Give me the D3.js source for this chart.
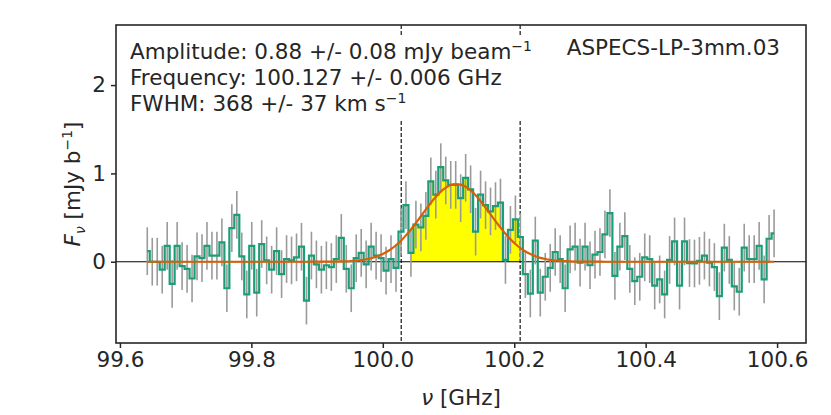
<!DOCTYPE html>
<html>
<head>
<meta charset="utf-8">
<script src="https://cdn.jsdelivr.net/npm/d3@7"></script>
<style>
  body { margin: 0; background: #fff; }
  svg { display: block; font-family: "DejaVu Sans", sans-serif; }
</style>
</head>
<body>
<div id="chart"></div>
<script>
// channel grid (GHz)
const freqStart = 99.6416;
const chanWidth = 0.00757;

// flux per channel, mJy/beam
const flux = [
  0.12, 0.00, 0.00, -0.09, 0.18, -0.25, 0.18, -0.05, -0.08, -0.19,
  0.06, 0.04, 0.18, 0.07, 0.07, 0.22, -0.30, 0.38, 0.53, 0.06,
  -0.37, 0.18, -0.35, 0.20, 0.015, -0.09, 0.12, -0.14, 0.03, 0.015,
  0.05, 0.17, -0.44, 0.07, -0.03, -0.09, -0.04, -0.06, 0.03, 0.27,
  -0.08, -0.30, 0.04, 0.10, -0.03, 0.17, 0.07, 0.04, -0.10, 0.03,
  -0.07, 0.34, 0.64, 0.10, 0.42, 0.39, 0.52, 0.91, 0.76, 1.07,
  0.92, 0.87, 0.87, 0.72, 0.95, 0.82, 0.34, 0.76, 0.64, 0.57,
  0.63, 0.67, 0.02, 0.36, 0.48, 0.28, -0.14, -0.36, 0.24, -0.35,
  -0.17, -0.07, 0.11, 0.03, -0.30, 0.14, 0.17, -0.01, 0.17, -0.04,
  0.08, 0.11, 0.31, 0.55, -0.16, 0.17, 0.29, -0.08, -0.22, -0.17,
  0.05, 0.03, -0.27, -0.20, -0.37, 0.02, 0.23, -0.27, 0.23, -0.015,
  -0.02, 0.01, 0.07, -0.01, -0.06, -0.39, 0.16, 0.02, -0.28, -0.34,
  0.16, 0.03, 0.03, 0.18, -0.20, 0.26, 0.32
];
const fluxErr = 0.27;

const xTicks = [99.6, 99.8, 100.0, 100.2, 100.4, 100.6];
const yTicks = [0, 1, 2];
const lineWindow = [100.028, 100.209];   // dashed markers
const fillRange = [53, 75];               // channels shaded yellow

// gaussian fit (GHz)
const fitAmp = 0.88;
const fitCenter = 100.112;
const fitFwhm = 0.1229;

const sourceName = "ASPECS-LP-3mm.03";
const fitLines = [
  ["Amplitude: 0.88 +/- 0.08 mJy beam", "\u22121"],
  ["Frequency: 100.127 +/- 0.006 GHz", ""],
  ["FWHM: 368 +/- 37 km s", "\u22121"]
];

const W = 831, H = 415;
const M = { left: 116, right: 806, top: 25, bottom: 343 };
const INK = "#262626";
const FS = "21.5px";
const SUB = "14px";

const svg = d3.select("#chart").append("svg")
  .attr("width", W)
  .attr("height", H);

const x = d3.scaleLinear().domain([99.594, 100.644]).range([M.left, M.right]);
const y = d3.scaleLinear().domain([-0.92, 2.68]).range([M.bottom, M.top]);

const channels = flux.map((v, i) => ({ f: freqStart + i * chanWidth, v }));
const sigma = fitFwhm / (2 * Math.sqrt(2 * Math.log(2)));
const gauss = f => fitAmp * Math.exp(-0.5 * ((f - fitCenter) / sigma) ** 2);

svg.append("clipPath").attr("id", "plotclip")
  .append("rect")
  .attr("x", M.left).attr("y", M.top)
  .attr("width", M.right - M.left).attr("height", M.bottom - M.top);

const g = svg.append("g").attr("clip-path", "url(#plotclip)");

// yellow line region
g.append("path")
  .datum(channels.slice(fillRange[0], fillRange[1] + 1))
  .attr("fill", "#ffff00")
  .attr("d", d3.area().curve(d3.curveStep)
    .x(d => x(d.f)).y0(y(0)).y1(d => y(d.v)));

g.append("line")
  .attr("x1", M.left).attr("x2", M.right)
  .attr("y1", y(0)).attr("y2", y(0))
  .attr("stroke", "#000")
  .attr("stroke-width", 1.2);

g.selectAll("line.vmark")
  .data(lineWindow)
  .join("line")
  .attr("class", "vmark")
  .attr("x1", d => x(d)).attr("x2", d => x(d))
  .attr("y1", M.top).attr("y2", M.bottom)
  .attr("stroke", "#000")
  .attr("stroke-width", 1.1)
  .attr("stroke-dasharray", "4,2");

g.selectAll("line.err")
  .data(channels)
  .join("line")
  .attr("class", "err")
  .attr("x1", d => x(d.f)).attr("x2", d => x(d.f))
  .attr("y1", d => y(d.v - fluxErr)).attr("y2", d => y(d.v + fluxErr))
  .attr("stroke", "#9a9a9a")
  .attr("stroke-width", 1.6);

g.append("path")
  .datum(channels)
  .attr("fill", "none")
  .attr("stroke", "#1b9e77")
  .attr("stroke-width", 2.2)
  .attr("d", d3.line().curve(d3.curveStep).x(d => x(d.f)).y(d => y(d.v)));

g.append("path")
  .datum(channels)
  .attr("fill", "none")
  .attr("stroke", "#d95f02")
  .attr("stroke-width", 2.2)
  .attr("d", d3.line().curve(d3.curveMonotoneX).x(d => x(d.f)).y(d => y(gauss(d.f))));

// white box behind the fit summary
svg.append("rect")
  .attr("x", 124).attr("y", 36)
  .attr("width", 420).attr("height", 84)
  .attr("fill", "#fff");

fitLines.forEach(([txt, sup], i) => {
  const t = svg.append("text")
    .attr("x", 130)
    .attr("y", 59 + i * 26)
    .attr("font-size", FS)
    .attr("fill", INK)
    .text(txt);
  if (sup) {
    t.append("tspan")
      .attr("dy", -8)
      .attr("font-size", SUB)
      .text(sup);
  }
});

svg.append("text")
  .attr("x", 780).attr("y", 55)
  .attr("text-anchor", "end")
  .attr("font-size", FS)
  .attr("fill", INK)
  .text(sourceName);

// axes
const xAxis = svg.append("g")
  .attr("transform", `translate(0,${M.bottom})`)
  .call(d3.axisBottom(x).tickValues(xTicks).tickFormat(d3.format(".1f")).tickSize(5).tickPadding(4).tickSizeOuter(0));

const yAxis = svg.append("g")
  .attr("transform", `translate(${M.left},0)`)
  .call(d3.axisLeft(y).tickValues(yTicks).tickFormat(d3.format("d")).tickSize(5).tickPadding(5).tickSizeOuter(0));

[xAxis, yAxis].forEach(a => {
  a.select(".domain").remove();
  a.selectAll(".tick line").attr("stroke", INK).attr("stroke-width", 1.5);
  a.selectAll(".tick text")
    .attr("fill", INK)
    .attr("font-size", FS)
    .attr("font-family", "DejaVu Sans");
});

svg.append("rect")
  .attr("x", M.left).attr("y", M.top)
  .attr("width", M.right - M.left).attr("height", M.bottom - M.top)
  .attr("fill", "none")
  .attr("stroke", INK)
  .attr("stroke-width", 1.6);

const xl = svg.append("text")
  .attr("x", (M.left + M.right) / 2)
  .attr("y", 405)
  .attr("text-anchor", "middle")
  .attr("font-size", FS)
  .attr("fill", INK);
xl.append("tspan").attr("font-style", "italic").text("\u03bd");
xl.append("tspan").text(" [GHz]");

const yl = svg.append("text")
  .attr("transform", `translate(80,${(M.top + M.bottom) / 2}) rotate(-90)`)
  .attr("text-anchor", "middle")
  .attr("font-size", FS)
  .attr("fill", INK);
yl.append("tspan").attr("font-style", "italic").text("F");
yl.append("tspan").attr("font-style", "italic").attr("font-size", SUB).attr("dy", 5).text("\u03bd");
yl.append("tspan").attr("dy", -5).text(" [mJy b");
yl.append("tspan").attr("font-size", SUB).attr("dy", -8).text("\u22121");
yl.append("tspan").attr("dy", 8).text("]");
</script>
</body>
</html>
